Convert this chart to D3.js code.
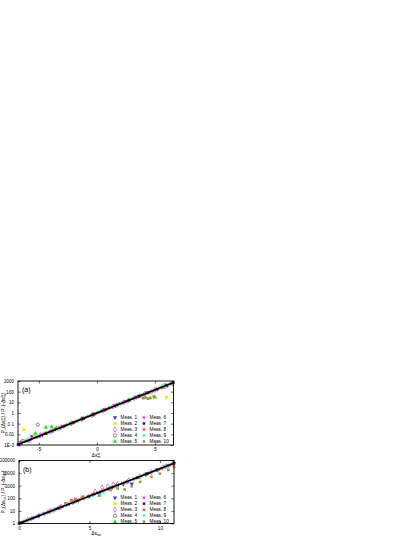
<!DOCTYPE html>
<html><head><meta charset="utf-8">
<script src="https://cdn.jsdelivr.net/npm/d3@7"></script>
<style>html,body{margin:0;padding:0;background:#fff;}svg{display:block;font-family:"Liberation Sans",Arial,sans-serif;}</style>
</head><body>
<script>
// ---------- DATA ----------
const seriesNames = ["Meas. 1","Meas. 2","Meas. 3","Meas. 4","Meas. 5","Meas. 6","Meas. 7","Meas. 8","Meas. 9","Meas. 10"];
const seriesColors = ["#3b3bff","#e6e600","#b455e6","#555555","#22dd22","#ff44ff","#2a2a8c","#ff5a5a","#66f0f0","#a8964a"];

const xTicksA = [-5, 0, 5];
const xTickLabelsA = ["-5", "0", "5"];
const yTicksA = [1000, 100, 10, 1, 0.1, 0.01, 0.001];
const yTickLabelsA = ["1000", "100", "10", "1", "0.1", "0.01", "1E-3"];
const xTicksB = [0, 5, 10];
const xTickLabelsB = ["0", "5", "10"];
const yTicksB = [100000, 10000, 1000, 100, 10, 1];
const yTickLabelsB = ["100000", "10000", "1000", "100", "10", "1"];

// theory line (P+/P- = e^x)
const lineAx = [-6.8, 6.6];
const lineAy = [0.00111, 735];
const lineBx = [0, 11];
const lineBy = [1, 59874];

// Panel (a) measured points
const aX1 = [-6.5,-5.6,-4.7,-3.8,-2.9,-2.0,-1.1,-0.2,0.7,1.6,2.5,3.4,4.3,5.2,6.1];
const aY1 = [0.0019,0.0062,0.0085,0.021,0.057,0.13,0.34,0.80,2.05,4.9,12.5,31,80,170,380];
const aX2 = [-6.3,-5.4,-4.5,-3.6,-2.7,-1.8,-0.9,0,0.9,1.8,2.7,3.6,4.5,5.4,5.9,6.0];
const aY2 = [0.028,0.0060,0.010,0.029,0.065,0.17,0.40,1.02,2.4,6.2,15,38,70,260,450,30];
const aX3 = [-6.7,-5.8,-4.9,-4.0,-3.1,-2.2,-1.3,-0.4,0.5,1.4,2.3,3.2,4.1,5.0,5.9,6.5];
const aY3 = [0.0012,0.0028,0.0080,0.018,0.046,0.11,0.27,0.66,1.7,4.1,10,25,58,150,330,620];
const aX4 = [-6.4,-5.1,-4.3,-3.3,-2.3,-1.3,-0.3,0.7,1.7,2.7,3.7,4.7,5.7];
const aY4 = [0.0025,0.08,0.014,0.035,0.10,0.28,0.74,2.0,5.5,14,42,105,280];
const aX5 = [-6.2,-5.3,-4.4,-3.9,-3.5,-2.6,-1.7,-0.8,0.1,1.0,1.9,2.8,3.7,4.2,4.6,5.0,5.5,6.4];
const aY5 = [0.0022,0.012,0.045,0.05,0.040,0.075,0.18,0.45,1.1,2.7,6.8,17,38,28,25,30,220,560];
const aX6 = [-6.6,-5.7,-4.8,-3.9,-3.0,-2.1,-1.2,-0.3,0.6,1.5,2.4,3.3,4.2,5.1,6.0,6.5];
const aY6 = [0.0012,0.0032,0.0085,0.020,0.050,0.12,0.30,0.75,1.8,4.5,11,27,68,170,420,750];
const aX7 = [-6.8,-6.0,-5.2,-4.4,-3.6,-2.8,-2.0,-1.2,-0.4,0.4,1.2,2.0,2.8,3.6,4.4,5.2,6.0,6.6];
const aY7 = [0.0011,0.0025,0.0055,0.012,0.027,0.061,0.135,0.30,0.67,1.5,3.3,7.4,16,37,81,180,400,730];
const aX8 = [-6.5,-5.5,-4.6,-3.7,-2.8,-1.9,-1.0,-0.1,0.8,1.7,2.6,3.5,4.0,4.4,4.9,5.6,6.3];
const aY8 = [0.0017,0.0045,0.011,0.026,0.058,0.15,0.37,0.90,2.2,5.3,13,30,25,22,35,250,500];
const aX9 = [-6.0,-5.1,-4.2,-3.3,-2.4,-1.5,-0.6,0.3,1.2,2.1,3.0,3.9,4.8,5.7,6.2];
const aY9 = [0.0035,0.0065,0.016,0.036,0.09,0.22,0.55,1.35,3.3,8.2,21,52,130,420,480];
const aX10 = [-6.7,-5.9,-5.0,-4.1,-3.2,-2.3,-1.4,-0.5,0.4,1.3,2.2,3.1,4.0,4.9,5.8,6.4];
const aY10 = [0.0013,0.0028,0.0062,0.017,0.040,0.10,0.25,0.60,1.5,3.6,9.0,22,50,125,300,560];

// Panel (b) measured points
const bX1 = [0.2,1.0,1.8,2.6,3.4,4.2,5.0,5.8,6.6,7.4,8.0,9.0,9.8,10.6];
const bY1 = [1.2,2.8,6.3,14,31,70,150,330,700,1300,1400,8000,18000,40000];
const bX2 = [0.4,1.2,2.0,2.8,3.6,4.4,5.2,6.0,6.8,7.6,8.4,9.2,10.0,10.8];
const bY2 = [1.5,3.4,7.8,18,42,95,210,450,800,1900,4200,9000,20000,45000];
const bX3 = [0.6,1.4,2.2,3.0,3.8,4.6,5.4,5.9,6.3,6.7,7.0,7.8,8.6,9.4,10.2,11.0];
const bY3 = [1.9,4.2,9.5,21,48,110,330,700,900,1200,1300,2600,5500,12000,27000,58000];
const bX4 = [0.8,2.4,3.9,5.3,6.5,7.7,9.0,10.4];
const bY4 = [2.2,11,52,210,640,2100,8000,32000];
const bX5 = [0.1,0.9,1.7,2.5,3.3,4.1,4.9,5.7,6.5,7.3,8.1,8.9,9.7,10.5,11.0];
const bY5 = [1.1,2.5,5.6,12,28,62,130,170,640,1450,3300,7300,16000,36000,80000];
const bX6 = [0.3,1.1,1.9,2.7,3.5,4.3,5.1,5.9,6.7,7.5,8.3,9.1,9.9,10.7];
const bY6 = [1.4,3.0,6.8,15,35,80,170,380,850,1800,4000,9000,20000,45000];
const bX7 = [0,0.7,1.4,2.1,2.8,3.5,4.2,4.9,5.6,6.3,7.0,7.7,8.4,9.1,9.8,10.5,11.0];
const bY7 = [1.0,2.0,4.1,8.2,16,33,67,134,270,545,1100,2200,4400,9000,18000,36000,60000];
const bX8 = [0.5,1.3,2.1,2.9,3.3,3.7,4.0,4.5,5.3,6.1,6.9,7.7,8.5,9.3,10.1,10.9];
const bY8 = [1.7,3.8,9,22,40,70,90,130,220,460,1000,2200,4800,11000,24000,52000];
const bX9 = [0.7,1.6,2.5,3.4,4.3,5.2,6.0,6.9,7.8,8.7,9.6,10.5];
const bY9 = [2.0,5.0,12,30,72,150,290,900,2400,6000,14500,35000];
const bX10 = [0.4,1.3,2.2,3.1,4.0,4.9,5.8,6.5,7.0,7.5,8.0,8.6,9.4,10.0,10.6,11.0];
const bY10 = [1.5,3.7,9,22,55,140,330,450,600,500,900,2000,5000,9000,18000,30000];

const panelAX = [aX1,aX2,aX3,aX4,aX5,aX6,aX7,aX8,aX9,aX10];
const panelAY = [aY1,aY2,aY3,aY4,aY5,aY6,aY7,aY8,aY9,aY10];
const panelBX = [bX1,bX2,bX3,bX4,bX5,bX6,bX7,bX8,bX9,bX10];
const panelBY = [bY1,bY2,bY3,bY4,bY5,bY6,bY7,bY8,bY9,bY10];

// ---------- DRAW ----------
const svg = d3.select("body").append("svg").attr("width",415).attr("height",537);
svg.append("rect").attr("width",415).attr("height",537).attr("fill","#fff");

const symTypes = [
  {t:d3.symbolTriangle, rot:180, fill:true},
  {t:d3.symbolTriangle, rot:90, fill:true},
  {t:d3.symbolDiamond, rot:0, fill:false},
  {t:d3.symbolCircle, rot:0, fill:false},
  {t:d3.symbolTriangle, rot:0, fill:true},
  {t:d3.symbolSquare, rot:0, fill:true},
  {t:d3.symbolSquare, rot:0, fill:true},
  {t:d3.symbolSquare, rot:0, fill:true},
  {t:d3.symbolCircle, rot:0, fill:true},
  {t:d3.symbolSquare, rot:0, fill:true}
];

function drawMarker(g, i, x, y) {
  const s = symTypes[i];
  const p = g.append("path")
    .attr("d", d3.symbol().type(s.t).size(s.t===d3.symbolSquare?7:8.5)())
    .attr("transform", `translate(${x},${y}) rotate(${s.rot})`);
  if (s.fill) p.attr("fill", seriesColors[i]).attr("stroke","none");
  else p.attr("fill","none").attr("stroke", seriesColors[i]).attr("stroke-width",0.7);
}

function richText(g, x, y, parts, opts) {
  const t = g.append("text").attr("x",x).attr("y",y)
    .attr("font-size",opts.size).attr("text-anchor",opts.anchor||"middle").attr("fill","#000");
  if (opts.rotate) t.attr("transform",`rotate(${opts.rotate},${x},${y})`);
  let shift = 0;
  parts.forEach(p => {
    const target = p.b || 0;
    const ts = t.append("tspan").text(p.s);
    ts.attr("dy", (target - shift)).attr("font-size", p.sz || opts.size);
    if (p.dx) ts.attr("dx", p.dx);
    shift = target;
  });
  return t;
}

function panel(cfg) {
  const {l,r,t,b} = cfg.box;
  const x = d3.scaleLinear().domain(cfg.xDom).range([l,r]);
  const y = d3.scaleLog().domain(cfg.yDom).range([b,t]);
  const g = svg.append("g");
  const fs = 4.6;

  // axes with inner ticks on all four sides
  const axB = d3.axisBottom(x).tickValues(cfg.xTicks).tickSize(-2.5).tickPadding(3)
    .tickFormat((d,i)=>cfg.xLabels[i]);
  const axT = d3.axisTop(x).tickValues(cfg.xTicks).tickSize(-2.5).tickFormat("");
  const axL = d3.axisLeft(y).tickValues(cfg.yTicks).tickSize(-2.5).tickPadding(4)
    .tickFormat((d,i)=>cfg.yLabels[i]);
  const axR = d3.axisRight(y).tickValues(cfg.yTicks).tickSize(-2.5).tickFormat("");
  [[axB,`translate(0,${b})`],[axT,`translate(0,${t})`],[axL,`translate(${l},0)`],[axR,`translate(${r},0)`]]
    .forEach(([ax,tr]) => {
      const a = g.append("g").attr("transform",tr).call(ax);
      a.select(".domain").remove();
      a.selectAll("line").attr("stroke","#000").attr("stroke-width",0.6);
      a.selectAll("text").attr("font-size",fs).attr("font-family","Liberation Sans, Arial, sans-serif").attr("fill","#000");
    });

  // data points
  const pg = g.append("g");
  cfg.xs.forEach((xs,i) => {
    xs.forEach((xv,j) => drawMarker(pg, i, x(xv), y(cfg.ys[i][j])));
  });

  // theory line
  g.append("path")
    .datum(cfg.lineX.map((v,i)=>[v,cfg.lineY[i]]))
    .attr("d", d3.line().x(d=>x(d[0])).y(d=>y(d[1])))
    .attr("stroke","#000").attr("stroke-width",1.6).attr("fill","none");

  // frame
  g.append("rect").attr("x",l).attr("y",t).attr("width",r-l).attr("height",b-t)
    .attr("fill","none").attr("stroke","#000").attr("stroke-width",0.9);

  // panel label
  g.append("text").attr("x",l+4).attr("y",t+11).attr("font-size",7).attr("fill","#000").text(cfg.label);

  // legend
  const lg = g.append("g");
  seriesNames.forEach((n,i) => {
    const col = i < 5 ? 0 : 1;
    const row = i % 5;
    const mx = cfg.legX[col], my = cfg.legY + row*cfg.legDy;
    drawMarker(lg, i, mx, my);
    lg.append("text").attr("x",mx+5.5).attr("y",my+1.6).attr("font-size",4.7).attr("fill","#000").text(n);
  });

  // titles
  richText(g, 96, cfg.xTitleY, cfg.xTitle, {size:5});
  richText(g, cfg.yTitleX, (t+b)/2, cfg.yTitle, {size:5, rotate:-90});
}

panel({
  box:{l:18,r:173.5,t:381,b:445},
  xDom:[-6.8,6.6], yDom:[0.001,1000],
  xTicks:xTicksA, xLabels:xTickLabelsA, yTicks:yTicksA, yLabels:yTickLabelsA,
  xs:panelAX, ys:panelAY, lineX:lineAx, lineY:lineAy, label:"(a)",
  legX:[115,144], legY:417.5, legDy:6,
  xTitleY:456.5,
  xTitle:[{s:"Δs"},{s:"w",b:-1.8,sz:3.5},{s:"m",b:1.6,sz:3.5,dx:-2.5}],
  yTitleX:5,
  yTitle:[{s:"P"},{s:"+",b:1.2,sz:3.5},{s:"(Δs",b:0},{s:"w",b:-1.8,sz:3.5},{s:"m",b:1.4,sz:3.5,dx:-2.5},{s:") / P",b:0},{s:"−",b:1.2,sz:3.5},{s:"(-Δs",b:0},{s:"w",b:-1.8,sz:3.5},{s:"m",b:1.4,sz:3.5,dx:-2.5},{s:")",b:0}]
});

panel({
  box:{l:19,r:174,t:460.5,b:523.5},
  xDom:[0,11], yDom:[1,100000],
  xTicks:xTicksB, xLabels:xTickLabelsB, yTicks:yTicksB, yLabels:yTickLabelsB,
  xs:panelBX, ys:panelBY, lineX:lineBx, lineY:lineBy, label:"(b)",
  legX:[115,144], legY:497.7, legDy:6,
  xTitleY:535,
  xTitle:[{s:"Δs"},{s:"tot",b:1.4,sz:3.5}],
  yTitleX:5,
  yTitle:[{s:"P"},{s:"+",b:1.2,sz:3.5},{s:"(Δs",b:0},{s:"tot",b:1.4,sz:3.5},{s:") / P",b:0},{s:"−",b:1.2,sz:3.5},{s:"(-Δs",b:0},{s:"tot",b:1.4,sz:3.5},{s:")",b:0}]
});
</script>
</body></html>
